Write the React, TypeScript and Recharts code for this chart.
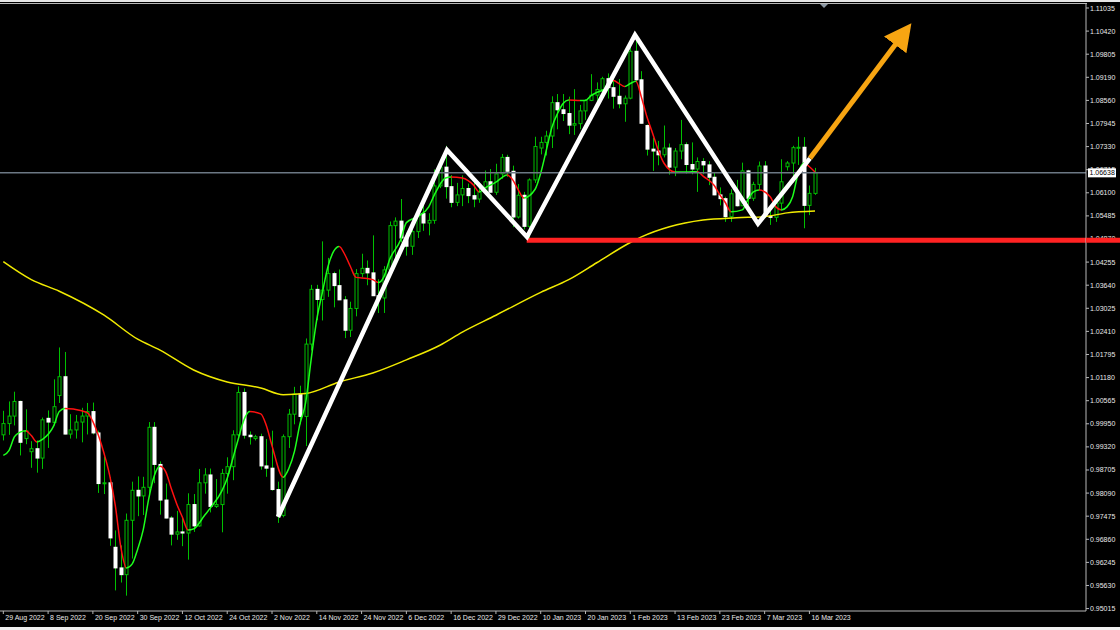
import { Bar, ComposedChart, Line, ReferenceLine, XAxis, YAxis } from 'recharts';

// daily bars, [open, high, low, close], 29 Aug 2022 .. 17 Mar 2023
const ohlc: [number, number, number, number][] = [
  [0.9965, 1.0029, 0.995, 0.9995], [0.9995, 1.0054, 0.9965, 1.0015], [1.0015, 1.008, 0.999, 1.0054],
  [1.0054, 1.0056, 0.991, 0.9945], [0.9955, 1.0033, 0.994, 0.9975], [0.992, 0.9948, 0.9877, 0.9928],
  [0.9928, 0.995, 0.9864, 0.9903], [0.9903, 1.0011, 0.9874, 1.0005], [1.0009, 1.003, 0.993, 0.9999],
  [0.9998, 1.0113, 0.999, 1.004], [1.007, 1.0198, 1.005, 1.012], [1.012, 1.0186, 0.9966, 0.9967],
  [0.9967, 1.002, 0.9955, 0.9978], [0.9978, 1.0018, 0.9955, 0.9999], [0.9999, 1.0037, 0.9945, 1.0015],
  [1.0015, 1.005, 0.9966, 1.0027], [1.0027, 1.0051, 0.9966, 0.997], [0.997, 0.9976, 0.981, 0.9835],
  [0.9835, 0.9907, 0.9807, 0.9837], [0.9837, 0.9852, 0.9669, 0.969], [0.9665, 0.971, 0.955, 0.961],
  [0.961, 0.967, 0.9571, 0.9592], [0.9592, 0.9755, 0.9536, 0.9737], [0.9737, 0.984, 0.9635, 0.9817],
  [0.9817, 0.9854, 0.9748, 0.9802], [0.9802, 0.9853, 0.9751, 0.9825], [0.9825, 0.9999, 0.9803, 0.9985],
  [0.9985, 0.9999, 0.9836, 0.9886], [0.9886, 0.9894, 0.9752, 0.9791], [0.9791, 0.9835, 0.9742, 0.9743],
  [0.9743, 0.9748, 0.967, 0.97], [0.97, 0.9762, 0.9685, 0.9706], [0.9706, 0.9745, 0.9668, 0.9703],
  [0.9703, 0.9809, 0.9632, 0.9779], [0.9779, 0.9807, 0.9706, 0.9722], [0.9722, 0.9874, 0.972, 0.9837],
  [0.9837, 0.9876, 0.9808, 0.9858], [0.9858, 0.9875, 0.9758, 0.9774], [0.9774, 0.9847, 0.977, 0.9779],
  [0.9779, 0.9874, 0.9705, 0.9862], [0.9862, 0.9905, 0.9808, 0.988], [0.988, 0.9977, 0.9844, 0.9965],
  [0.9965, 1.0094, 0.996, 1.0078], [1.0078, 1.0089, 0.9955, 0.9964], [0.9964, 0.9974, 0.9939, 0.996],
  [0.9955, 0.9965, 0.995, 0.996], [0.996, 0.9968, 0.9872, 0.9882], [0.9882, 0.9954, 0.9853, 0.9876],
  [0.9876, 0.9976, 0.9816, 0.9819], [0.9819, 0.984, 0.973, 0.975], [0.975, 0.9966, 0.9745, 0.996],
  [0.996, 1.0034, 0.993, 1.002], [1.002, 1.0093, 0.9993, 1.0074], [1.0074, 1.0096, 0.9993, 1.0014],
  [1.0014, 1.0222, 0.9935, 1.0207], [1.0207, 1.0365, 1.019, 1.0353], [1.0353, 1.0365, 1.0271, 1.0326],
  [1.0326, 1.0481, 1.027, 1.0351], [1.0351, 1.0437, 1.0333, 1.0395], [1.0395, 1.04, 1.0305, 1.0363],
  [1.0363, 1.0406, 1.0326, 1.0325], [1.0325, 1.0335, 1.0223, 1.0244], [1.0244, 1.032, 1.0226, 1.0302],
  [1.0302, 1.0407, 1.0281, 1.0395], [1.0395, 1.0448, 1.0385, 1.0409], [1.0409, 1.043, 1.0364, 1.0397],
  [1.0397, 1.0497, 1.034, 1.0336], [1.0336, 1.038, 1.029, 1.033], [1.033, 1.0415, 1.029, 1.0405],
  [1.0405, 1.0534, 1.0395, 1.0523], [1.0523, 1.0545, 1.0428, 1.0535], [1.0535, 1.0594, 1.0478, 1.049],
  [1.049, 1.0504, 1.0443, 1.0468], [1.0468, 1.0534, 1.0445, 1.0507], [1.0507, 1.0563, 1.049, 1.0555],
  [1.0555, 1.0588, 1.0509, 1.053], [1.053, 1.0556, 1.0497, 1.0537], [1.0537, 1.0673, 1.0528, 1.0629],
  [1.0629, 1.0695, 1.0623, 1.0679], [1.0679, 1.0736, 1.0595, 1.0627], [1.0627, 1.0658, 1.0572, 1.0585],
  [1.0585, 1.0637, 1.0575, 1.0605], [1.0605, 1.0657, 1.0575, 1.0622], [1.0622, 1.0635, 1.0583, 1.0603],
  [1.0603, 1.064, 1.0572, 1.0594], [1.0594, 1.0639, 1.0584, 1.0613], [1.0613, 1.067, 1.061, 1.064],
  [1.064, 1.0674, 1.0611, 1.0612], [1.0612, 1.0688, 1.0605, 1.0661], [1.0661, 1.0714, 1.0648, 1.0705],
  [1.0705, 1.0712, 1.0653, 1.0668], [1.0668, 1.0683, 1.0519, 1.0546], [1.0546, 1.0634, 1.0542, 1.0604],
  [1.0604, 1.0613, 1.0513, 1.0521], [1.0521, 1.0649, 1.0483, 1.0645], [1.0645, 1.076, 1.0637, 1.0734],
  [1.073, 1.076, 1.0713, 1.0745], [1.0745, 1.0776, 1.071, 1.0762], [1.0762, 1.0868, 1.073, 1.0851],
  [1.0851, 1.0874, 1.078, 1.0832], [1.0832, 1.0874, 1.0802, 1.0822], [1.0822, 1.0867, 1.0767, 1.0791],
  [1.0791, 1.0887, 1.0765, 1.0795], [1.0795, 1.0845, 1.078, 1.0829], [1.0829, 1.086, 1.0805, 1.0857],
  [1.0857, 1.0927, 1.0855, 1.0871], [1.0871, 1.0905, 1.0835, 1.0886], [1.0886, 1.092, 1.0863, 1.0915],
  [1.0915, 1.0929, 1.0862, 1.0891], [1.0891, 1.0914, 1.0835, 1.0868], [1.0868, 1.0914, 1.0836, 1.0848],
  [1.0848, 1.087, 1.08, 1.0863], [1.0863, 1.1, 1.086, 1.0988], [1.0988, 1.1033, 1.0905, 1.0912],
  [1.0912, 1.0935, 1.0795, 1.0796], [1.079, 1.0793, 1.071, 1.0727], [1.0727, 1.0757, 1.0669, 1.0722],
  [1.0722, 1.0749, 1.0684, 1.0712], [1.0712, 1.079, 1.0705, 1.073], [1.073, 1.0742, 1.0659, 1.0679],
  [1.0679, 1.073, 1.0655, 1.0722], [1.0722, 1.0805, 1.07, 1.0739], [1.0739, 1.0745, 1.0662, 1.0686],
  [1.0686, 1.0745, 1.066, 1.0674], [1.0674, 1.0705, 1.0613, 1.0694], [1.0694, 1.0703, 1.066, 1.0685],
  [1.0685, 1.0695, 1.0631, 1.0652], [1.0652, 1.0665, 1.0604, 1.0605], [1.0605, 1.0625, 1.0577, 1.0595],
  [1.0595, 1.06, 1.0533, 1.0547], [1.0547, 1.062, 1.0533, 1.0608], [1.0608, 1.0645, 1.0574, 1.0576],
  [1.0576, 1.0691, 1.0575, 1.0669], [1.0669, 1.0672, 1.0577, 1.0596], [1.0596, 1.064, 1.0589, 1.0633],
  [1.0633, 1.0694, 1.0618, 1.0682], [1.0682, 1.0695, 1.0544, 1.0548], [1.0548, 1.0567, 1.0525, 1.0545],
  [1.0545, 1.06, 1.0533, 1.0583], [1.0583, 1.07, 1.0566, 1.064], [1.068, 1.0695, 1.067, 1.069],
  [1.069, 1.0736, 1.0638, 1.0731], [1.0731, 1.076, 1.0685, 1.0732], [1.0732, 1.0759, 1.0516, 1.0577],
  [1.0577, 1.063, 1.0551, 1.0609], [1.0609, 1.0677, 1.0605, 1.0664],
];

const dateTicks = [0, 8, 16, 24, 32, 40, 48, 56, 64, 72, 80, 88, 96, 104, 112, 120, 128, 136, 144];
const dateLabels = [
  '29 Aug 2022', '8 Sep 2022', '20 Sep 2022', '30 Sep 2022', '12 Oct 2022', '24 Oct 2022', '2 Nov 2022',
  '14 Nov 2022', '24 Nov 2022', '6 Dec 2022', '16 Dec 2022', '29 Dec 2022', '10 Jan 2023', '20 Jan 2023',
  '1 Feb 2023', '13 Feb 2023', '23 Feb 2023', '7 Mar 2023', '16 Mar 2023',
];
const priceLabels = [
  '1.11035', '1.10420', '1.09805', '1.09190', '1.08560', '1.07945', '1.07330', '1.06715', '1.06100',
  '1.05485', '1.04870', '1.04255', '1.03640', '1.03025', '1.02410', '1.01795', '1.01180', '1.00565',
  '0.99950', '0.99320', '0.98705', '0.98090', '0.97475', '0.96860', '0.96245', '0.95630', '0.95015',
];

// slow moving average (yellow), read at sample bars
const yellowBar = [0, 5, 10, 18, 24, 28, 34, 40, 46, 50, 54, 60, 66, 72, 78, 82, 88, 96, 101, 106, 112, 114, 119, 125, 131, 136, 140, 145];
const yellowValue = [
  1.0427, 1.0379, 1.0348, 1.0284, 1.022, 1.0191, 1.0138, 1.0106, 1.009, 1.0072, 1.0075, 1.0106, 1.013,
  1.0165, 1.0204, 1.0239, 1.0284, 1.0345, 1.0379, 1.0424, 1.0478, 1.0493, 1.052, 1.0538, 1.0544, 1.0547,
  1.0557, 1.0562,
];

// fast coloured average, read at sample bars
const hmaBar = [
  0, 1, 2, 3, 4, 5, 6, 7, 9, 10, 11, 14, 15, 16, 17, 18, 19, 20, 21, 22, 23, 24, 25, 26, 27, 28, 29, 30, 31, 32,
  33, 34, 36, 37, 39, 40, 41, 42, 43, 44, 46, 47, 48, 50, 51, 52, 53, 54, 55, 56, 57, 58, 59, 60, 61, 62, 63,
  65, 66, 67, 68, 69, 71, 72, 74, 76, 77, 79, 80, 82, 84, 85, 86, 88, 90, 91, 92, 93, 95, 96, 97, 98, 99, 100,
  101, 103, 104, 105, 106, 108, 109, 110, 111, 112, 113, 114, 115, 116, 117, 118, 120, 122, 124, 125, 127,
  128, 129, 130, 132, 133, 134, 135, 137, 138, 139, 140, 141, 142, 143, 144, 145,
];
const hmaValue = [
  0.991, 0.9923, 0.996, 0.9972, 0.9976, 0.9963, 0.9946, 0.9953, 0.9989, 1.0027, 1.0035, 1.0029, 1.0024, 1.0,
  0.9963, 0.9915, 0.9857, 0.9777, 0.9665, 0.961, 0.962, 0.966, 0.9712, 0.9796, 0.9857, 0.9881, 0.9867,
  0.9822, 0.978, 0.9745, 0.9711, 0.9714, 0.9751, 0.977, 0.9814, 0.9849, 0.9902, 0.9955, 1.0005, 1.0027,
  1.0021, 0.9989, 0.9936, 0.9852, 0.9875, 0.992, 0.9995, 1.005, 1.0167, 1.0273, 1.0345, 1.0414, 1.0454,
  1.0467, 1.0446, 1.0414, 1.0385, 1.0382, 1.0379, 1.0371, 1.0387, 1.0432, 1.0486, 1.0531, 1.0547, 1.0573,
  1.0605, 1.065, 1.0653, 1.065, 1.0631, 1.0613, 1.0623, 1.0639, 1.0658, 1.0645, 1.0618, 1.0597, 1.062,
  1.0663, 1.0724, 1.0785, 1.0822, 1.0849, 1.0858, 1.0857, 1.0857, 1.087, 1.0878, 1.0891, 1.091, 1.0902,
  1.0894, 1.0902, 1.0908, 1.0865, 1.0812, 1.0769, 1.0724, 1.069, 1.0666, 1.0666, 1.0667, 1.0655, 1.063,
  1.0605, 1.0584, 1.056, 1.0565, 1.0592, 1.0613, 1.0618, 1.06, 1.0573, 1.0565, 1.0573, 1.06, 1.0663, 1.069,
  1.068, 1.0666,
];

// hand drawn objects
const zigBar = [49.07, 79.26, 93.55, 112.84, 134.81, 144.1];
const zigValue = [0.97458, 1.07247, 1.04927, 1.10315, 1.0528, 1.07026];
const lastPrice = 1.06638;
const supportLevel = 1.0484;
const supportStart = 93.5;
const arrowFrom = { x: 144.1, y: 1.07026 };
const arrowTo = { x: 159.43, y: 1.10075 };

const X_MIN = -0.593;
const X_MAX = 193.41;
const Y_MIN = 0.949505;
const Y_MAX = 1.111417;
const LABEL_TOP = 1.11035;
const LABEL_STEP = (1.11035 - 0.95015) / 26;
const SCALE_W = 34;

const GREEN = '#00c000';
const HMA_UP = '#1cff1c';
const HMA_DOWN = '#ff1010';
const YELLOW = '#f0ea00';
const RED = '#ff2222';
const ORANGE = '#f7a512';
const AXIS = '#b8b8b8';
const TEXT = '#e8e8e8';
const FONT = 'Liberation Sans, Arial, sans-serif';

const candles = ohlc.map(([o, h, l, c], i) => ({ i, o, h, l, c, range: [l, h] }));
const yellowPts = yellowBar.map((i, k) => ({ i, v: yellowValue[k] }));
const hmaPts = hmaBar.map((i, k) => ({ i, v: hmaValue[k] }));
const zigPts = zigBar.map((i, k) => ({ i, v: zigValue[k] }));
// grid labels first, then the two marks that sit on top of the price scale
const priceTicks = [...priceLabels.map((_, k) => LABEL_TOP - k * LABEL_STEP), supportLevel, lastPrice];

// colour stops for the fast average: red while it falls, green while it rises
function hmaStops() {
  const first = hmaBar[0];
  const span = hmaBar[hmaBar.length - 1] - first;
  const stops: { off: number; color: string }[] = [];
  let prev = '';
  for (let k = 0; k < hmaValue.length - 1; k++) {
    const color = hmaValue[k + 1] < hmaValue[k] ? HMA_DOWN : HMA_UP;
    const off = (hmaBar[k] - first) / span;
    if (color !== prev) {
      if (prev) stops.push({ off, color: prev });
      stops.push({ off, color });
      prev = color;
    }
  }
  stops.push({ off: 1, color: prev });
  return stops;
}

function Candle(props: any) {
  const { x, y, width, height, payload } = props;
  if (x == null || y == null || !payload) return null;
  const cx = Math.round(x + width / 2) + 0.5;
  const top = Math.min(y, y + height);
  const h = Math.abs(height);
  const span = payload.h - payload.l || 1;
  const at = (v: number) => top + ((payload.h - v) / span) * h;
  const yo = at(payload.o);
  const yc = at(payload.c);
  const bull = payload.c >= payload.o;
  const bTop = Math.min(yo, yc);
  const bH = Math.max(Math.abs(yc - yo), 1);
  return (
    <g>
      <line x1={cx} x2={cx} y1={top} y2={top + h} stroke={GREEN} strokeWidth={1} />
      {bull ? (
        <rect x={cx - 1.5} y={bTop} width={3} height={bH} fill="#000" stroke={GREEN} strokeWidth={1} />
      ) : (
        <rect x={cx - 2} y={bTop - 0.5} width={4} height={bH + 1} fill="#fff" />
      )}
    </g>
  );
}

function DateTick(props: any) {
  const { x, y, payload } = props;
  const k = dateTicks.indexOf(payload.value);
  return (
    <g>
      <line x1={x} x2={x} y1={y} y2={y + 3} stroke={AXIS} />
      <text x={x + 2} y={y + 9} fontSize={7} fill={TEXT} fontFamily={FONT} textAnchor="start">
        {dateLabels[k]}
      </text>
    </g>
  );
}

function PriceTick(props: any) {
  const { x, y, payload } = props;
  const v = payload.value;
  if (v === supportLevel) {
    // the support line runs on across the price scale
    return <line x1={x} x2={x + SCALE_W} y1={y} y2={y} stroke={RED} strokeWidth={5} />;
  }
  if (v === lastPrice) {
    return (
      <g>
        <rect x={x + 2} y={y - 4.5} width={28} height={9} fill="#fff" />
        <text x={x + 3.5} y={y + 2.5} fontSize={7} fill="#000" fontFamily={FONT}>
          {lastPrice.toFixed(5)}
        </text>
      </g>
    );
  }
  const k = Math.round((LABEL_TOP - v) / LABEL_STEP);
  return (
    <g>
      <line x1={x} x2={x + 3} y1={y} y2={y} stroke={AXIS} />
      <text x={x + 4} y={y + 2.5} fontSize={7} fill={TEXT} fontFamily={FONT} textAnchor="start">
        {priceLabels[k]}
      </text>
    </g>
  );
}

function ArrowShape(p: any) {
  return <line x1={p.x1} y1={p.y1} x2={p.x2} y2={p.y2} stroke={ORANGE} strokeWidth={5} markerEnd="url(#arrowHead)" />;
}

export default function App() {
  const stops = hmaStops();
  return (
    <div style={{ position: 'absolute', left: 0, top: 0, width: 1120, height: 630, background: '#000', overflow: 'hidden' }}>
      <ComposedChart width={1120} height={630} data={candles} margin={{ top: 4, right: 0, bottom: 0, left: 0 }}>
        <defs>
          <linearGradient id="hmaGrad" x1="0" y1="0" x2="1" y2="0">
            {stops.map((s, k) => (
              <stop key={k} offset={s.off} stopColor={s.color} />
            ))}
          </linearGradient>
          <marker id="arrowHead" markerUnits="userSpaceOnUse" markerWidth={30} markerHeight={30} refX={1} refY={15} orient="auto">
            <path d="M0,1 L27,15 L0,29 Z" fill={ORANGE} />
          </marker>
        </defs>
        <XAxis
          dataKey="i"
          type="number"
          domain={[X_MIN, X_MAX]}
          allowDataOverflow
          ticks={dateTicks}
          interval={0}
          tick={<DateTick />}
          tickSize={0}
          tickMargin={0}
          tickLine={false}
          height={19}
          axisLine={{ stroke: AXIS }}
        />
        <YAxis
          orientation="right"
          type="number"
          domain={[Y_MIN, Y_MAX]}
          allowDataOverflow
          ticks={priceTicks}
          interval={0}
          tick={<PriceTick />}
          tickSize={0}
          tickMargin={0}
          tickLine={false}
          width={SCALE_W}
          axisLine={{ stroke: AXIS }}
        />
        <Bar dataKey="range" barSize={4} shape={<Candle />} isAnimationActive={false} />
        <Line data={yellowPts} dataKey="v" type="monotone" stroke={YELLOW} strokeWidth={1.5} dot={false} isAnimationActive={false} />
        <Line data={hmaPts} dataKey="v" type="monotone" stroke="url(#hmaGrad)" strokeWidth={1.5} dot={false} isAnimationActive={false} />
        <ReferenceLine y={lastPrice} stroke="#6c7884" strokeWidth={1.5} />
        <ReferenceLine
          segment={[{ x: supportStart, y: supportLevel }, { x: X_MAX, y: supportLevel }]}
          stroke={RED}
          strokeWidth={5}
          ifOverflow="visible"
        />
        <Line data={zigPts} dataKey="v" type="linear" stroke="#ffffff" strokeWidth={4.5} dot={false} isAnimationActive={false} />
        <ReferenceLine segment={[arrowFrom, arrowTo]} ifOverflow="visible" shape={ArrowShape} />
      </ComposedChart>
      <div style={{ position: 'absolute', left: 0, top: 0, width: 1120, height: 2, background: '#e6e6e6' }} />
      <div style={{ position: 'absolute', left: 0, top: 3, width: 1087, height: 1, background: AXIS }} />
      <svg style={{ position: 'absolute', left: 820, top: 4 }} width={9} height={6}>
        <path d="M0,0 L8,0 L4,4 Z" fill="#8c98a4" />
      </svg>
      <div style={{ position: 'absolute', left: 0, top: 627, width: 1120, height: 3, background: '#f0f0f0' }} />
    </div>
  );
}
